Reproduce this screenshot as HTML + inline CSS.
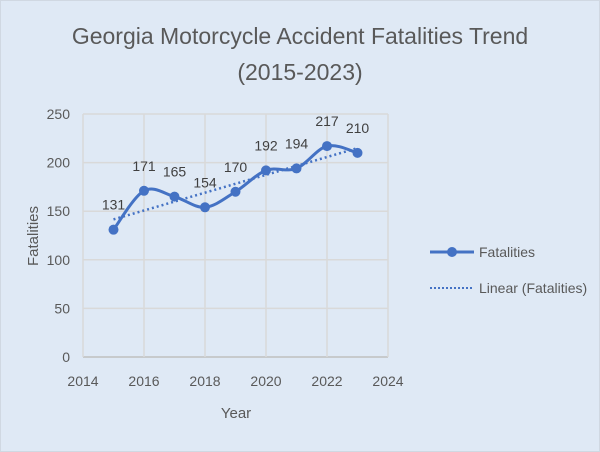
<!DOCTYPE html>
<html><head><meta charset="utf-8"><style>
body{margin:0;background:#dfe9f5;}
svg{display:block;font-family:"Liberation Sans Narrow","Liberation Sans",sans-serif;}
</style></head><body>
<svg id="c" width="600" height="452">
<rect x="0.5" y="0.5" width="599" height="451" fill="#dfe9f5" stroke="#d0d8e2"/>
<text x="300" y="44" text-anchor="middle" font-size="23" fill="#595959">Georgia Motorcycle Accident Fatalities Trend</text>
<text x="300" y="80" text-anchor="middle" font-size="23" fill="#595959">(2015-2023)</text>
<g id="grid"></g><g id="axes"></g><g id="marks"></g>
<text x="236" y="418" text-anchor="middle" font-size="15" fill="#595959">Year</text>
<text transform="translate(38,236) rotate(-90)" text-anchor="middle" font-size="15" fill="#595959">Fatalities</text>
<g>
<line x1="430" y1="252" x2="474" y2="252" stroke="#4472c4" stroke-width="3"/>
<circle cx="452" cy="252" r="5" fill="#4472c4"/>
<text x="479" y="257" font-size="14" fill="#595959">Fatalities</text>
<line x1="430" y1="288" x2="474" y2="288" stroke="#4472c4" stroke-width="2" stroke-dasharray="2,2"/>
<text x="479" y="293" font-size="14" fill="#595959">Linear (Fatalities)</text>
</g>
</svg>
<script>
const years=[2015,2016,2017,2018,2019,2020,2021,2022,2023];
const fatalities=[131,171,165,154,170,192,194,217,210];
const xTicks=[2014,2016,2018,2020,2022,2024];
const yTicks=[0,50,100,150,200,250];
const NS="http://www.w3.org/2000/svg";
const x=v=>83+(v-2014)*30.5, y=v=>357-v*0.972;
function mk(t,a,p){const e=document.createElementNS(NS,t);for(const k in a)e.setAttribute(k,a[k]);p.appendChild(e);return e;}
const grid=document.getElementById('grid'),axes=document.getElementById('axes'),marks=document.getElementById('marks');
yTicks.forEach(v=>{const l=mk('line',{x1:83,x2:388,y1:y(v),y2:y(v),stroke:v===0?'#bfbfbf':'#d9d9d9','stroke-width':1.5},grid);

const t=mk('text',{x:70,y:y(v)+5,'text-anchor':'end','font-size':14,fill:'#595959'},axes);t.textContent=v;
});
xTicks.forEach(v=>{const l=mk('line',{x1:x(v),x2:x(v),y1:114,y2:357,stroke:'#d9d9d9','stroke-width':1.5},grid);

const t=mk('text',{x:x(v),y:386,'text-anchor':'middle','font-size':14,fill:'#595959'},axes);t.textContent=v;
});
const n=years.length,mx=years.reduce((a,b)=>a+b)/n,my=fatalities.reduce((a,b)=>a+b)/n;
let sxy=0,sxx=0;years.forEach((v,i)=>{sxy+=(v-mx)*(fatalities[i]-my);sxx+=(v-mx)*(v-mx);});
const b=sxy/sxx,a0=my-b*mx;
const tl=mk('line',{x1:x(years[0]),y1:y(a0+b*years[0]),x2:x(years[n-1]),y2:y(a0+b*years[n-1]),stroke:'#4472c4','stroke-width':2.5,'stroke-dasharray':'2,3'},marks);

const P=years.map((v,i)=>[x(v),y(fatalities[i])]);
let d='M'+P[0][0]+','+P[0][1];
for(let i=0;i<P.length-1;i++){const p0=P[Math.max(i-1,0)],p1=P[i],p2=P[i+1],p3=P[Math.min(i+2,P.length-1)];
d+=` C${p1[0]+(p2[0]-p0[0])/6},${p1[1]+(p2[1]-p0[1])/6} ${p2[0]-(p3[0]-p1[0])/6},${p2[1]-(p3[1]-p1[1])/6} ${p2[0]},${p2[1]}`;}
const ln=mk('path',{d:d,fill:'none',stroke:'#4472c4','stroke-width':3},marks);

P.forEach((p,i)=>{const c=mk('circle',{cx:p[0],cy:p[1],r:5,fill:'#4472c4'},marks);

const t=mk('text',{x:p[0],y:p[1]-20,'text-anchor':'middle','font-size':14,fill:'#404040'},marks);t.textContent=fatalities[i];
});
</script>
</body></html>
